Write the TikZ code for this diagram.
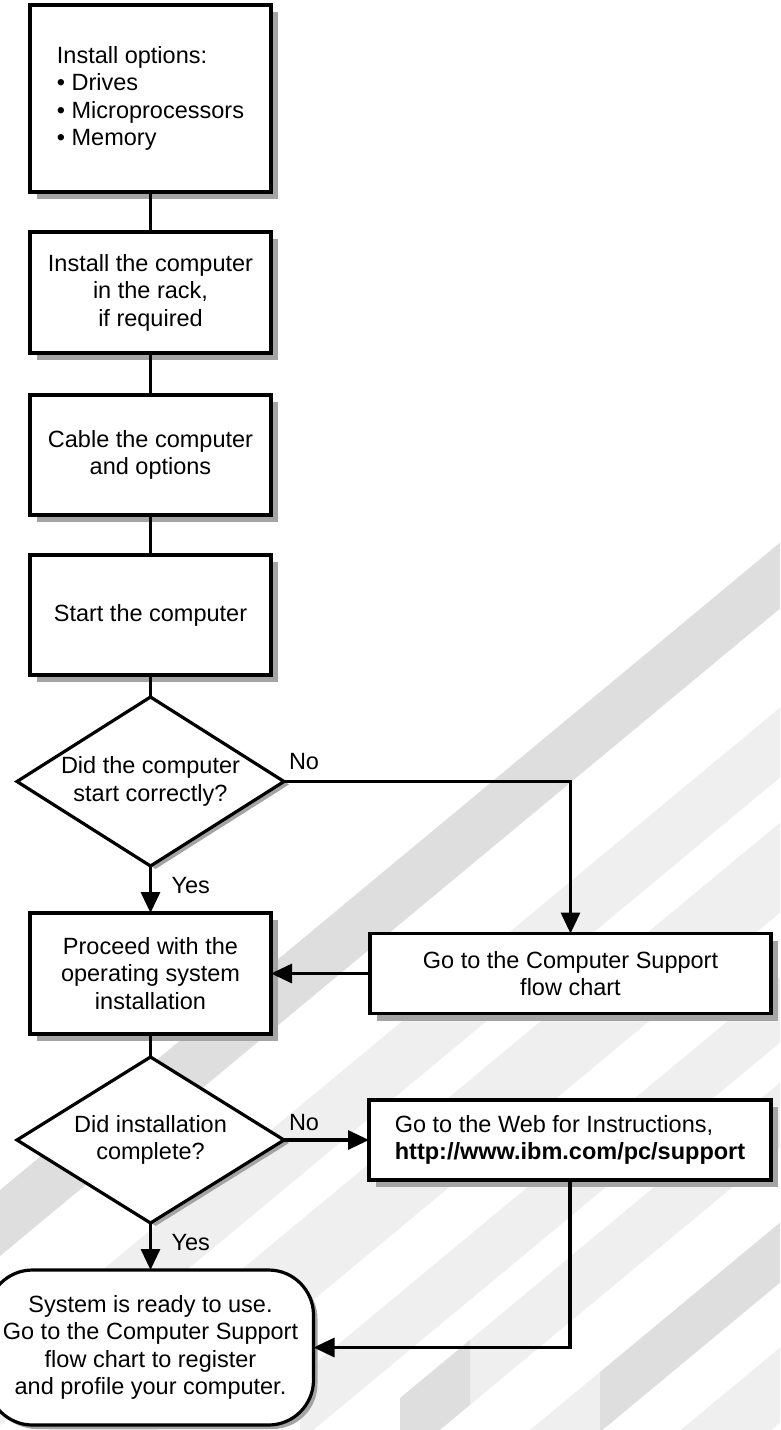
\documentclass[tikz,border=0pt]{standalone}
\usepackage{fontspec}
\setmainfont{Liberation Sans}
\usetikzlibrary{positioning, shapes.geometric, shadows, arrows.meta}
\definecolor{bardark}{HTML}{DEDEDE}
\definecolor{barlight}{HTML}{EFEFEF}
\definecolor{shadowgray}{HTML}{A4A4A4}

\begin{document}
\begin{tikzpicture}[x=1pt, y=-1pt,
                    every node/.style={font=\fontsize{23.5}{27.5}\selectfont},
                    blocknode/.style={rectangle, draw=black, line width=3.2pt, fill=white, outer sep=0pt, inner sep=0pt,
                                      minimum width=241pt, minimum height=120pt, align=center,
                                      drop shadow={shadow xshift=7pt, shadow yshift=-7pt, fill=shadowgray, opacity=1}},
                    decisionnode/.style={diamond, aspect=1.6, draw=black, line width=3.2pt, fill=white, outer sep=0pt, inner sep=0pt,
                                         minimum width=267pt, minimum height=169pt, align=center,
                                         drop shadow={shadow xshift=5pt, shadow yshift=-3pt, fill=shadowgray, opacity=1}},
                    terminalnode/.style={rectangle, rounded corners=45pt, draw=black, line width=3.2pt, fill=white, outer sep=0pt, inner sep=0pt,
                                         minimum width=326pt, minimum height=155pt, align=center,
                                         drop shadow={shadow xshift=4pt, shadow yshift=-4pt, fill=shadowgray, opacity=1}},
                    floatingnode/.style={inner sep=0pt, outer sep=0pt},
                    connector/.style={line width=3.2pt},
                    arrowline/.style={line width=3.2pt, -{Triangle[length=21pt, width=19pt]}},
                    node distance=40pt]
    % background bars
    \begin{scope}
        \clip (0,0) rectangle (780,1430);
        \foreach \barcol/\ua/\ub/\xa/\xb in {bardark/1190/1256/0/780, barlight/1355/1425/0/780,
                                             barlight/1470/1560/0/780, barlight/1625/1690/300/780,
                                             barlight/1730/1795/470/780, bardark/1730/1795/400/470,
                                             barlight/1870/1930/320/600, bardark/1870/1930/600/780,
                                             barlight/1995/2070/640/780}
            \fill[\barcol] (\xa,{\ua-0.83*\xa}) -- (\xb,{\ua-0.83*\xb}) -- (\xb,{\ub-0.83*\xb}) -- (\xa,{\ub-0.83*\xa}) -- cycle;
    \end{scope}
    \useasboundingbox (0,0) rectangle (780,1430);

    \node[blocknode, minimum height=187pt, align=left] (opts) at (150.5,98.5) {Install options:\\• Drives\\• Microprocessors\\• Memory};
    \node[blocknode, minimum height=121pt] (rack) [below=of opts] {Install the computer\\in the rack,\\if required};
    \node[blocknode] (cable) [below=42pt of rack] {Cable the computer\\and options};
    \node[blocknode] (start) [below=of cable] {Start the computer};
    \node[decisionnode] (startok) [below=22pt of start] {Did the computer\\start correctly?};
    \node[blocknode, minimum height=121pt] (proceed) [below=47pt of startok] {Proceed with the\\operating system\\installation};
    \node[decisionnode, minimum height=166pt] (installok) [below=23pt of proceed] {Did installation\\complete?};
    \node[terminalnode] (ready) [below=47pt of installok] {System is ready to use.\\Go to the Computer Support\\flow chart to register\\and profile your computer.};
    \node[blocknode, minimum width=401pt, minimum height=80pt] (support) [right=99pt of proceed] {Go to the Computer Support\\flow chart};
    \node[blocknode, minimum width=402pt, minimum height=80pt, align=left] (web) [right=85pt of installok] {Go to the Web for Instructions,\\\textbf{http://www.ibm.com/pc/support}};
    \node[floatingnode, anchor=base west] (nostart) at ([xshift=5pt, yshift=12pt]startok.east) {No};
    \node[floatingnode, anchor=base west] (noinstall) at ([xshift=5pt, yshift=10pt]installok.east) {No};

    \draw[connector] (opts) -- (rack);
    \draw[connector] (rack) -- (cable);
    \draw[connector] (cable) -- (start);
    \draw[connector] (start) -- (startok);
    \draw[arrowline] (startok) -- node[floatingnode, anchor=west, xshift=21pt, yshift=4pt] (yesstart) {Yes} (proceed);
    \draw[arrowline] (startok.east) -| (support.north);
    \draw[arrowline] (support) -- (proceed);
    \draw[connector] (proceed) -- (installok);
    \draw[arrowline] (installok) -- node[floatingnode, anchor=west, xshift=21pt, yshift=4pt] (yesinstall) {Yes} (ready);
    \draw[arrowline] (installok) -- (web);
    \draw[arrowline] (web.south) |- (ready.east);
\end{tikzpicture}
\end{document}
